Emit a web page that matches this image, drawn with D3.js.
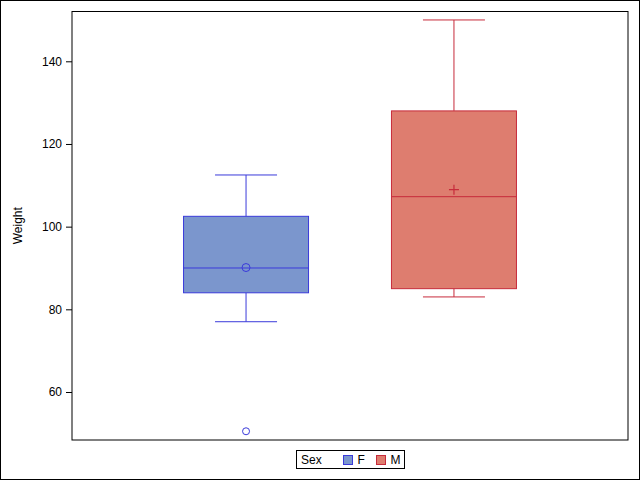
<!DOCTYPE html>
<html><head><meta charset="utf-8">
<script src="https://cdn.jsdelivr.net/npm/d3@7"></script>
<style>body{margin:0;background:#fff}svg{display:block;font-family:Arial,"Liberation Sans",sans-serif}</style>
</head><body>
<script>
const categories = ["F", "M"];
const q1 = [84, 85];
const median = [90, 107.25];
const q3 = [102.5, 128];
const whiskerLow = [77, 83];
const whiskerHigh = [112.5, 150];
const means = [90.11, 108.95];
const outliers = [[50.5], []];
const yTicks = [60, 80, 100, 120, 140];
const fills = ["#7B96CD", "#DE7D6F"];
const strokes = ["#3A3ADA", "#C72B3B"];

const W = 640, H = 480;
const L = 72, R = 628, T = 11.5, B = 440;
const svg = d3.select("body").append("svg").attr("width", W).attr("height", H);
svg.append("rect").attr("x", 0.5).attr("y", 0.5).attr("width", W - 1).attr("height", H - 1)
  .attr("fill", "#fff").attr("stroke", "#000");

const y = d3.scaleLinear().domain([60, 140]).range([392, 61.3]);
const x = d3.scalePoint().domain(categories).range([L, R]).padding(0.837);
const boxW = 125, capW = 62;

// axis
const ax = svg.append("g").attr("transform", `translate(${L},0)`)
  .call(d3.axisLeft(y).tickValues(yTicks).tickSize(6).tickPadding(4).tickFormat(d3.format("d")));
ax.select(".domain").remove();
ax.selectAll("text").attr("font-size", 12).attr("fill", "#000").attr("font-family", "Arial,'Liberation Sans',sans-serif");
ax.selectAll("line").attr("stroke", "#000");

svg.append("text").attr("transform", `translate(22,${(T + B) / 2}) rotate(-90)`)
  .attr("text-anchor", "middle").attr("font-size", 12).text("Weight");

categories.forEach((c, i) => {
  const cx = x(c);
  const g = svg.append("g");
  // whiskers
  g.append("line").attr("x1", cx).attr("x2", cx).attr("y1", y(whiskerHigh[i])).attr("y2", y(q3[i]))
    .attr("stroke", strokes[i]);
  g.append("line").attr("x1", cx).attr("x2", cx).attr("y1", y(q1[i])).attr("y2", y(whiskerLow[i]))
    .attr("stroke", strokes[i]);
  g.append("line").attr("x1", cx - capW / 2).attr("x2", cx + capW / 2).attr("y1", y(whiskerHigh[i])).attr("y2", y(whiskerHigh[i]))
    .attr("stroke", strokes[i]);
  g.append("line").attr("x1", cx - capW / 2).attr("x2", cx + capW / 2).attr("y1", y(whiskerLow[i])).attr("y2", y(whiskerLow[i]))
    .attr("stroke", strokes[i]);
  // box
  g.append("rect").attr("x", cx - boxW / 2).attr("y", y(q3[i])).attr("width", boxW)
    .attr("height", y(q1[i]) - y(q3[i])).attr("fill", fills[i]).attr("stroke", strokes[i]);
  g.append("line").attr("x1", cx - boxW / 2).attr("x2", cx + boxW / 2).attr("y1", y(median[i])).attr("y2", y(median[i]))
    .attr("stroke", strokes[i]);
  // mean
  if (i === 0) {
    g.append("circle").attr("cx", cx).attr("cy", y(means[i])).attr("r", 4)
      .attr("fill", "none").attr("stroke", strokes[i]);
  } else {
    const my = y(means[i]);
    g.append("path").attr("d", `M${cx - 5},${my}H${cx + 5}M${cx},${my - 5}V${my + 5}`)
      .attr("stroke", strokes[i]).attr("stroke-width", 1.2);
  }
  outliers[i].forEach(v => {
    g.append("circle").attr("cx", cx).attr("cy", y(v)).attr("r", 3.5)
      .attr("fill", "none").attr("stroke", strokes[i]);
  });
});

// plot frame
svg.append("rect").attr("x", L).attr("y", T).attr("width", R - L).attr("height", B - T)
  .attr("fill", "none").attr("stroke", "#000");

// legend
const lg = svg.append("g");
lg.append("rect").attr("x", 296.5).attr("y", 450.5).attr("width", 108).attr("height", 18)
  .attr("fill", "#fff").attr("stroke", "#000");
lg.append("text").attr("x", 301).attr("y", 464).attr("font-size", 12).text("Sex");
const lx = [343.5, 376.5];
categories.forEach((c, i) => {
  lg.append("rect").attr("x", lx[i]).attr("y", 455.5).attr("width", 9).attr("height", 9)
    .attr("fill", fills[i]).attr("stroke", strokes[i]);
  lg.append("text").attr("x", lx[i] + 14).attr("y", 464).attr("font-size", 12).text(c);
});
</script>
</body></html>
